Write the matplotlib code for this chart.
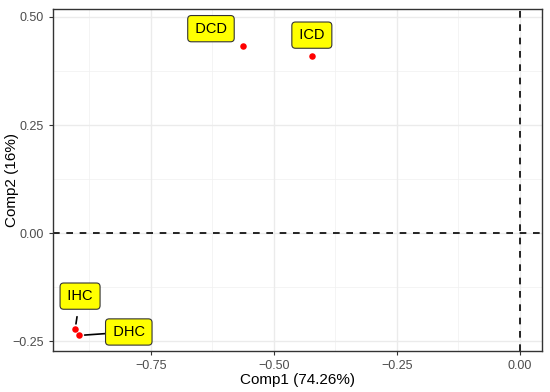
import matplotlib
matplotlib.use("Agg")
import matplotlib.pyplot as plt
import numpy as np

plt.rcParams['font.family'] = ['Liberation Sans', 'DejaVu Sans']

# PCA scores
names = ["DCD", "ICD", "IHC", "DHC"]
comp1 = [-0.563, -0.422, -0.904, -0.896]
comp2 = [0.432, 0.409, -0.223, -0.237]
# label positions (repelled)
lab_x = [-0.628, -0.423, -0.894, -0.795]
lab_y = [0.473, 0.458, -0.146, -0.229]

xticks = [-0.75, -0.50, -0.25, 0.00]
yticks = [-0.25, 0.00, 0.25, 0.50]

fig = plt.figure(figsize=(5.5, 3.92), dpi=100)
ax = fig.add_axes([53/550, 1-351/392, (542-53)/550, (351-9)/392])

ax.set_xlim(-0.949, 0.0447)
ax.set_ylim(-0.273, 0.5185)

for v in np.arange(-0.875, 0.05, 0.25):
    ax.axvline(v, color="#F0F0F0", lw=0.5, zorder=0)
for v in np.arange(-0.125, 0.5, 0.25):
    ax.axhline(v, color="#F0F0F0", lw=0.5, zorder=0)
for v in xticks:
    ax.axvline(v, color="#EBEBEB", lw=1.0, zorder=0)
for v in yticks:
    ax.axhline(v, color="#EBEBEB", lw=1.0, zorder=0)

ax.axhline(0, color="black", lw=1.2, ls=(0, (4, 4)), zorder=1)
ax.axvline(0, color="black", lw=1.2, ls=(0, (4, 4)), zorder=1)

ax.scatter(comp1, comp2, s=22, color="red", zorder=3, linewidths=0)

for n, px, py, lx, ly in zip(names, comp1, comp2, lab_x, lab_y):
    if n in ("IHC", "DHC"):
        ax.annotate("", xy=(px, py), xytext=(lx, ly),
                    arrowprops=dict(arrowstyle="-", color="black", lw=1.2,
                                    shrinkA=15, shrinkB=4), zorder=2)
    ax.text(lx, ly, "\u200a" + n + "\u200a", ha="center", va="center",
            fontsize=10.5, color="black", zorder=4,
            bbox=dict(boxstyle="round,pad=0.42,rounding_size=0.25",
                      fc="#FFFF00", ec="#333333", lw=0.8))

ax.set_xticks(xticks)
ax.set_xticklabels(["\u22120.75", "\u22120.50", "\u22120.25", "0.00"])
ax.set_yticks(yticks)
ax.set_yticklabels(["\u22120.25", "0.00", "0.25", "0.50"])
ax.tick_params(colors="#333333", labelcolor="#4D4D4D", labelsize=9, length=3)

for s in ax.spines.values():
    s.set_color("#333333")
    s.set_linewidth(1.0)

ax.set_xlabel("Comp1 (74.26%)", fontsize=11, va="center")
ax.set_ylabel("Comp2 (16%)", fontsize=11, va="center")
ax.xaxis.set_label_coords(0.5, (351-380)/342)
ax.yaxis.set_label_coords((12-53)/489, 0.5)

fig.savefig("out.png", dpi=100)
